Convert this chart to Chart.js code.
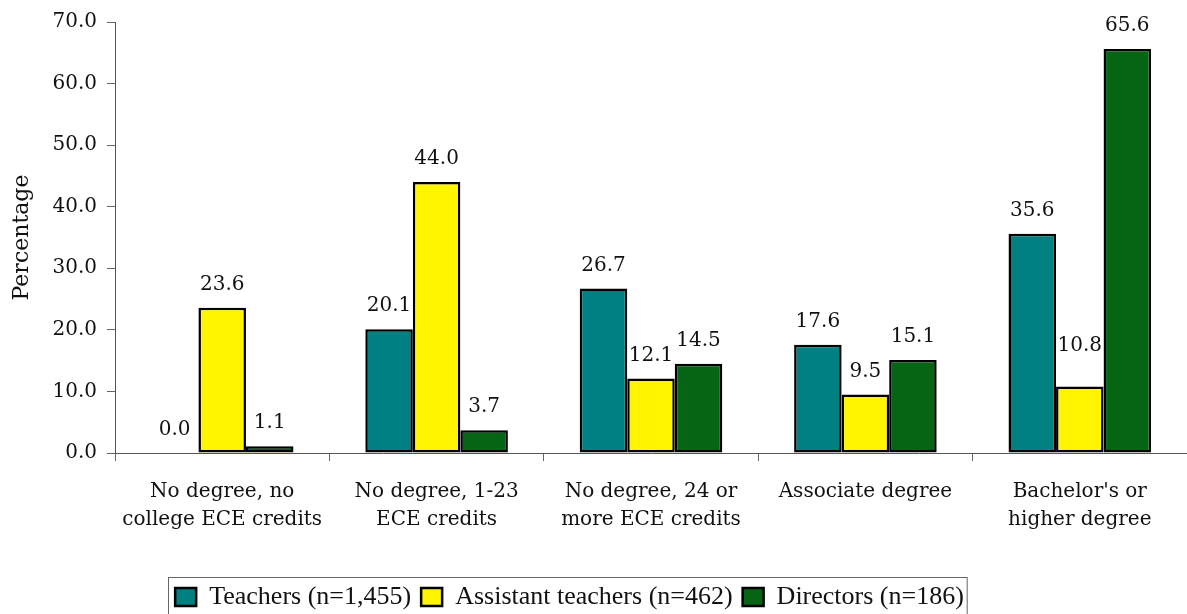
<!DOCTYPE html>
<html>
<head>
<meta charset="utf-8">
<script src="https://cdn.jsdelivr.net/npm/chart.js@4.4.1/dist/chart.umd.min.js"></script>
<style>
    html, body { margin: 0; padding: 0; background: #fff; }
    #wrap { width: 1187px; height: 614px; }
</style>
</head>
<body>
<div id="wrap"><canvas id="eduChart" width="1187" height="614"></canvas></div>
<script>
const categories = [
    ["No degree, no", "college ECE credits"],
    ["No degree, 1-23", "ECE credits"],
    ["No degree, 24 or", "more ECE credits"],
    ["Associate degree"],
    ["Bachelor's or", "higher degree"]
];
const teachers = [0.0, 20.1, 26.7, 17.6, 35.6];
const assistantTeachers = [23.6, 44.0, 12.1, 9.5, 10.8];
const directors = [1.1, 3.7, 14.5, 15.1, 65.6];
const seriesNames = ["Teachers (n=1,455)", "Assistant teachers (n=462)", "Directors (n=186)"];
const yTicks = [0, 10, 20, 30, 40, 50, 60, 70];

const serif = "'DejaVu Serif', Georgia, serif";

// values over the bars, plus a border round the legend
const barLabels = {
    id: "barLabels",
    afterLayout(chart) {
        // legend in the original sits a bit left of centre and lower
        const lg = chart.legend;
        lg.left -= 24; lg.right -= 24;
        lg.top += 6; lg.bottom += 6;
        lg.adjustHitBoxes();
    },
    afterDatasetsDraw(chart) {
        const ctx = chart.ctx;
        ctx.save();
        ctx.font = "20px " + serif;
        ctx.fillStyle = "#111";
        ctx.textAlign = "center";
        ctx.textBaseline = "middle";
        chart.data.datasets.forEach((ds, di) => {
            chart.getDatasetMeta(di).data.forEach((bar, i) => {
                let lift = 23;
                if (di == 1 && i == 4) lift = 41; // this one sits higher in the original
                ctx.fillText(ds.data[i].toFixed(1), bar.x, bar.y - lift);
            });
        });
        ctx.restore();
    },
    afterDraw(chart) {
        const boxes = chart.legend.legendHitBoxes;
        if (!boxes || !boxes.length) return;
        const first = boxes[0], last = boxes[boxes.length - 1];
        const ctx = chart.ctx;
        ctx.save();
        ctx.strokeStyle = "#666";
        ctx.lineWidth = 1;
        ctx.strokeRect(Math.round(first.left) - 6.5, 577.5, last.left + last.width - first.left + 10, 40);
        ctx.restore();
    }
};

new Chart("eduChart", {
    type: "bar",
    data: {
        labels: categories,
        datasets: [
            { label: seriesNames[0], data: teachers, backgroundColor: "#008080" },
            { label: seriesNames[1], data: assistantTeachers, backgroundColor: "#FFF500" },
            { label: seriesNames[2], data: directors, backgroundColor: "#056515" }
        ]
    },
    options: {
        responsive: false,
        animation: false,
        layout: { padding: { top: 6, right: 0, bottom: 0, left: 0 } },
        datasets: {
            bar: {
                borderColor: "#000",
                borderWidth: 2.5,
                borderSkipped: false,
                barPercentage: 1.0,
                categoryPercentage: 0.665
            }
        },
        scales: {
            x: {
                grid: { display: true, drawOnChartArea: false, offset: true, tickLength: 8, color: "#666" },
                border: { color: "#555", width: 1 },
                ticks: { color: "#111", font: { family: serif, size: 20, lineHeight: 1.4 }, maxRotation: 0, padding: 17 },
                afterFit(scale) { scale.height = 115; }
            },
            y: {
                min: 0,
                max: 70,
                afterBuildTicks(scale) { scale.ticks = yTicks.map(v => ({ value: v })); },
                grid: { drawOnChartArea: false, tickLength: 8, color: "#666" },
                border: { color: "#555", width: 1 },
                ticks: {
                    color: "#111",
                    font: { family: serif, size: 20 },
                    padding: 10,
                    callback: v => v.toFixed(1)
                },
                title: { display: true, text: "Percentage", color: "#111", font: { family: serif, size: 22 }, padding: { top: 9, bottom: 0 } },
                afterFit(scale) { scale.width = 115; }
            }
        },
        plugins: {
            legend: {
                position: "bottom",
                labels: {
                    color: "#111",
                    font: { family: "'Liberation Serif', serif", size: 26 },
                    boxWidth: 21,
                    boxHeight: 18,
                    padding: 10,
                    useBorderRadius: false
                }
            },
            tooltip: { enabled: false }
        }
    },
    plugins: [barLabels]
});
</script>
</body>
</html>
